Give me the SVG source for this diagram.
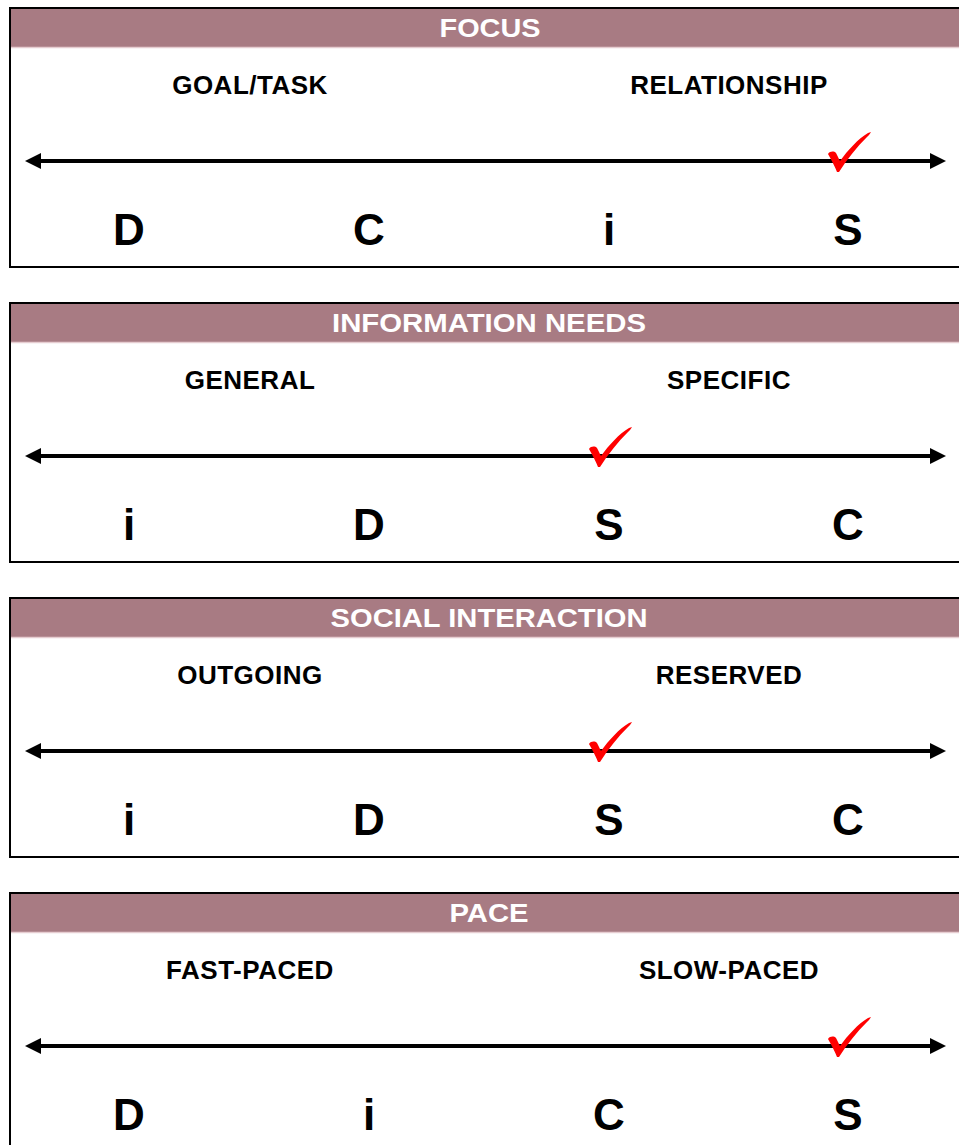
<svg xmlns="http://www.w3.org/2000/svg" xmlns:xlink="http://www.w3.org/1999/xlink" width="959" height="1145" viewBox="0 0 959 1145">
<style>
.frame{fill:#ffffff;stroke:#000000;stroke-width:2}
.band{fill:#A87B83}
.bandline{stroke:#E6CDD1;stroke-width:1.5}
.title{font-family:"Liberation Sans",Arial,sans-serif;font-weight:bold;font-size:26px;fill:#ffffff;text-anchor:middle}
.lbl{font-family:"Liberation Sans",Arial,sans-serif;font-weight:bold;font-size:26px;letter-spacing:0.5px;fill:#000000;text-anchor:middle}
.big{font-family:"Liberation Sans",Arial,sans-serif;font-weight:bold;font-size:44px;fill:#000000;text-anchor:middle}
.axis{stroke:#000000;stroke-width:4;fill:none;marker-start:url(#ah);marker-end:url(#ah)}
.tick{fill:#FF0000}
</style>
<defs>
<marker id="ah" markerUnits="userSpaceOnUse" markerWidth="16" markerHeight="16" refX="3" refY="8" orient="auto-start-reverse" viewBox="0 0 16 16">
<path d="M0,0 L16,8 L0,16 Z" fill="#000000"/>
</marker>
<path id="check" d="M1,22 C3,19 7,19 9,21 C10,23 12,27 13,29 C21,18 31,7 41,1 L44,0 C43,2 42,3 40,5 C30,15 20,27 12,40 L10,40 C8,35 5,29 1,22 Z"/>
</defs>
<rect width="959" height="1145" fill="#ffffff"/>

<g id="panel-focus">
<rect class="frame" x="10" y="8" width="960" height="259"/>
<rect class="band" x="11" y="9" width="948" height="38"/>
<line class="bandline" x1="11" y1="47.5" x2="959" y2="47.5"/>
<text class="title" x="490" y="37" textLength="101" lengthAdjust="spacingAndGlyphs">FOCUS</text>
<text class="lbl" x="250" y="94">GOAL/TASK</text>
<text class="lbl" x="729" y="94">RELATIONSHIP</text>
<text class="big" x="129" y="245">D</text>
<text class="big" x="369" y="245">C</text>
<text class="big" x="609" y="245">i</text>
<text class="big" x="848" y="245">S</text>
</g>

<g id="panel-information-needs">
<rect class="frame" x="10" y="303" width="960" height="259"/>
<rect class="band" x="11" y="304" width="948" height="38"/>
<line class="bandline" x1="11" y1="342.5" x2="959" y2="342.5"/>
<text class="title" x="489" y="332" textLength="314" lengthAdjust="spacingAndGlyphs">INFORMATION NEEDS</text>
<text class="lbl" x="250" y="389">GENERAL</text>
<text class="lbl" x="729" y="389">SPECIFIC</text>
<text class="big" x="129" y="540">i</text>
<text class="big" x="369" y="540">D</text>
<text class="big" x="609" y="540">S</text>
<text class="big" x="848" y="540">C</text>
</g>

<g id="panel-social-interaction">
<rect class="frame" x="10" y="598" width="960" height="259"/>
<rect class="band" x="11" y="599" width="948" height="38"/>
<line class="bandline" x1="11" y1="637.5" x2="959" y2="637.5"/>
<text class="title" x="489" y="627" textLength="317" lengthAdjust="spacingAndGlyphs">SOCIAL INTERACTION</text>
<text class="lbl" x="250" y="684">OUTGOING</text>
<text class="lbl" x="729" y="684">RESERVED</text>
<text class="big" x="129" y="835">i</text>
<text class="big" x="369" y="835">D</text>
<text class="big" x="609" y="835">S</text>
<text class="big" x="848" y="835">C</text>
</g>

<g id="panel-pace">
<rect class="frame" x="10" y="893" width="960" height="259"/>
<rect class="band" x="11" y="894" width="948" height="38"/>
<line class="bandline" x1="11" y1="932.5" x2="959" y2="932.5"/>
<text class="title" x="489" y="922" textLength="79" lengthAdjust="spacingAndGlyphs">PACE</text>
<text class="lbl" x="250" y="979">FAST-PACED</text>
<text class="lbl" x="729" y="979">SLOW-PACED</text>
<text class="big" x="129" y="1130">D</text>
<text class="big" x="369" y="1130">i</text>
<text class="big" x="609" y="1130">C</text>
<text class="big" x="848" y="1130">S</text>
</g>

<g id="connectors">
<line class="axis" x1="38" y1="161" x2="933" y2="161"/>
<line class="axis" x1="38" y1="456" x2="933" y2="456"/>
<line class="axis" x1="38" y1="751" x2="933" y2="751"/>
<line class="axis" x1="38" y1="1046" x2="933" y2="1046"/>
</g>

<g id="checkmarks">
<use xlink:href="#check" class="tick" x="827" y="132"/>
<use xlink:href="#check" class="tick" x="588" y="427"/>
<use xlink:href="#check" class="tick" x="588" y="722"/>
<use xlink:href="#check" class="tick" x="827" y="1017"/>
</g>
</svg>
